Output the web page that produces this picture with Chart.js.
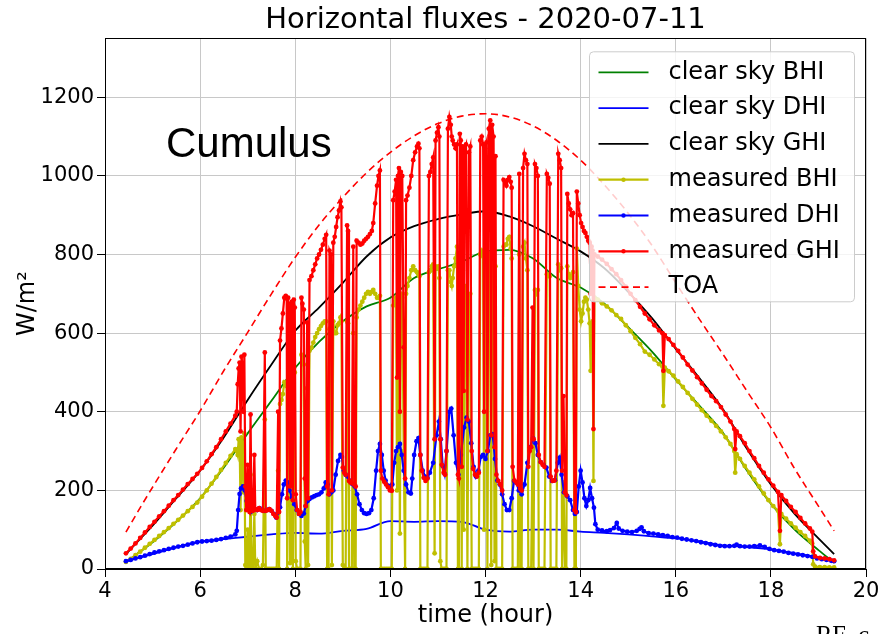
<!DOCTYPE html>
<html>
<head>
<meta charset="utf-8">
<title>Horizontal fluxes - 2020-07-11</title>
<script src="https://cdn.jsdelivr.net/npm/chart.js@4.4.1/dist/chart.umd.min.js"></script>
<style>
  html, body { margin: 0; padding: 0; background: #fff; }
  #wrap { position: relative; width: 882px; height: 634px; overflow: hidden; }
</style>
</head>
<body>
<div id="wrap"><canvas id="fluxChart" width="882" height="634"></canvas></div>
<script>
// clear sky model + top of atmosphere, W/m2 against hour of day
const clearHours = [4.44, 4.75, 5, 5.5, 6, 6.5, 7, 7.5, 8, 8.5, 9, 9.5, 10, 10.5, 11, 11.5, 12, 12.5, 13, 13.5, 14, 14.5, 15, 15.5, 16, 16.5, 17, 17.5, 18, 18.5, 19, 19.33];
const toaFlux = [94, 158, 208, 306, 402, 505, 602, 700, 793, 875, 945, 1008, 1060, 1102, 1133, 1152, 1158, 1150, 1127, 1090, 1040, 977, 905, 823, 728, 635, 545, 452, 360, 255, 160, 97];
const clearGHI = [38, 78, 110, 180, 250, 335, 430, 520, 606, 665, 728, 795, 843, 872, 890, 902, 910, 897, 872, 840, 808, 765, 705, 638, 560, 485, 405, 305, 215, 140, 78, 38];
const clearBHI = [18, 45, 68, 120, 180, 258, 345, 428, 512, 578, 630, 668, 690, 740, 762, 782, 808, 812, 790, 740, 716, 675, 615, 553, 482, 415, 345, 250, 166, 100, 48, 16];
const clearDHI = [20, 30, 38, 55, 70, 76, 82, 88, 92, 90, 97, 102, 122, 120, 122, 120, 100, 95, 100, 100, 95, 92, 88, 83, 78, 70, 60, 56, 50, 40, 30, 22];

// measured, morning (clear)
const morningHours = [4.44, 4.54, 4.64, 4.74, 4.84, 4.94, 5.04, 5.14, 5.24, 5.34, 5.44, 5.54, 5.64, 5.74, 5.84, 5.94, 6.04, 6.14, 6.24, 6.34, 6.44, 6.54, 6.64, 6.74];
const morningGHI = [40, 52, 65, 79, 93, 107, 120, 134, 147, 161, 175, 188, 202, 216, 229, 242, 257, 274, 292, 310, 330, 350, 370, 390];
const morningBHI = [18, 26, 35, 44, 54, 64, 74, 84, 94, 104, 115, 125, 136, 147, 158, 169, 184, 200, 217, 234, 252, 270, 288, 305];
const morningDHI = [20, 23, 27, 30, 34, 38, 42, 45, 48, 51, 54, 57, 59, 62, 65, 68, 70, 71, 72, 74, 76, 79, 82, 88];

// measured, cumulus period
const cloudHours = [
  6.77, 6.79, 6.81, 6.83, 6.85, 6.87, 6.89, 6.91, 6.93, 6.95,
  6.97, 7.00, 7.02, 7.04, 7.06, 7.08, 7.11, 7.14, 7.16, 7.20,
  7.24, 7.28, 7.32, 7.36, 7.38, 7.42, 7.46, 7.50, 7.54, 7.58,
  7.61, 7.64, 7.66, 7.68, 7.71, 7.74, 7.77, 7.80, 7.82, 7.83,
  7.85, 7.87, 7.89, 7.91, 7.93, 7.95, 7.97, 7.99, 8.01, 8.04,
  8.08, 8.11, 8.13, 8.15, 8.18, 8.20, 8.22, 8.25, 8.27, 8.30,
  8.34, 8.38, 8.42, 8.46, 8.50, 8.54, 8.58, 8.62, 8.65, 8.67,
  8.70, 8.72, 8.75, 8.77, 8.80, 8.83, 8.86, 8.89, 8.92, 8.95,
  8.97, 9.00, 9.03, 9.06, 9.09, 9.11, 9.13, 9.16, 9.19, 9.22,
  9.24, 9.27, 9.29, 9.33, 9.37, 9.41, 9.45, 9.49, 9.53, 9.57,
  9.61, 9.64, 9.68, 9.72, 9.75, 9.78, 9.80, 9.83, 9.87, 9.91,
  9.95, 9.99, 10.03, 10.06, 10.09, 10.12, 10.14, 10.16, 10.18, 10.20,
  10.22, 10.25, 10.28, 10.31, 10.33, 10.36, 10.40, 10.44, 10.48, 10.52,
  10.56, 10.59, 10.61, 10.63, 10.66, 10.70, 10.74, 10.78, 10.81, 10.84,
  10.87, 10.90, 10.93, 10.95, 10.98, 11.01, 11.03, 11.05, 11.08, 11.12,
  11.15, 11.18, 11.21, 11.24, 11.27, 11.29, 11.31, 11.34, 11.37, 11.40,
  11.42, 11.44, 11.46, 11.48, 11.50, 11.52, 11.54, 11.56, 11.59, 11.62,
  11.65, 11.68, 11.71, 11.74, 11.78, 11.82, 11.86, 11.89, 11.92, 11.95,
  11.97, 11.99, 12.02, 12.04, 12.07, 12.10, 12.12, 12.14, 12.17, 12.19,
  12.21, 12.23, 12.27, 12.31, 12.35, 12.38, 12.41, 12.44, 12.47, 12.50,
  12.53, 12.55, 12.57, 12.61, 12.65, 12.68, 12.71, 12.73, 12.76, 12.79,
  12.82, 12.85, 12.88, 12.90, 12.93, 12.96, 12.99, 13.01, 13.04, 13.07,
  13.10, 13.12, 13.16, 13.20, 13.24, 13.29, 13.32, 13.35, 13.37, 13.41,
  13.45, 13.49, 13.53, 13.56, 13.59, 13.61, 13.64, 13.67, 13.70, 13.72,
  13.75, 13.78, 13.81, 13.84, 13.87, 13.90, 13.92, 13.95, 13.98, 14.01,
  14.04, 14.07, 14.10, 14.13, 14.16, 14.19, 14.21, 14.23, 14.25, 14.27
];
const cloudGHI = [
  400, 470, 510, 525, 350, 540, 520, 400, 545, 210,
  150, 265, 150, 145, 393, 150, 148, 290, 152, 150,
  155, 150, 148, 551, 148, 150, 152, 148, 140, 135,
  131, 400, 145, 581, 612, 650, 690, 695, 688, 180,
  690, 660, 210, 675, 680, 175, 685, 665, 190, 150,
  140, 145, 690, 675, 660, 230, 160, 627, 180, 735,
  745, 760, 775, 790, 800, 812, 825, 840, 850, 210,
  190, 810, 800, 200, 830, 845, 870, 895, 912, 935,
  920, 258, 245, 240, 874, 860, 224, 220, 218, 820,
  215, 210, 835, 830, 825, 828, 835, 840, 845, 852,
  860, 880, 930, 975, 1000, 1014, 250, 230, 222, 215,
  208, 200, 199, 938, 960, 990, 487, 1000, 1020, 400,
  1010, 1000, 564, 230, 938, 950, 970, 1000, 1040, 1060,
  1075, 1082, 1070, 290, 250, 232, 224, 230, 1000, 1010,
  1030, 1047, 330, 1090, 1110, 1124, 1100, 330, 265, 245,
  240, 300, 1120, 1150, 1130, 1100, 1090, 1080, 1070, 1080,
  240, 230, 1107, 1090, 260, 1075, 453, 1070, 1080, 380,
  1060, 1075, 300, 255, 240, 235, 245, 1090, 1100, 1080,
  400, 1070, 1085, 300, 1120, 1141, 340, 1130, 1100, 310,
  1050, 240, 224, 215, 200, 990, 985, 975, 990, 997,
  985, 970, 260, 225, 220, 215, 1005, 205, 200, 1020,
  1056, 1040, 1030, 260, 300, 310, 665, 330, 1030, 1020,
  1000, 290, 272, 265, 260, 1005, 995, 980, 235, 224,
  225, 250, 1056, 1040, 1020, 250, 440, 195, 188, 954,
  930, 915, 900, 905, 150, 145, 960, 930, 900, 880,
  870, 860, 855, 845, 835, 830, 700, 820, 810, 356
];
const cloudBHI = [
  300, 290, 330, 330, 150, 335, 315, 195, 345, 10,
  0, 100, 0, 5, 240, 0, 0, 140, 0, 20,
  0, 0, 10, 380, 0, 0, 0, 0, 0, 0,
  0, 250, 0, 420, 430, 445, 475, 470, 465, 0,
  470, 455, 15, 480, 495, 0, 510, 500, 20, 0,
  0, 0, 545, 535, 520, 70, 0, 460, 10, 555,
  563, 576, 590, 600, 610, 618, 625, 630, 630, 0,
  0, 610, 605, 10, 630, 600, 600, 620, 625, 640,
  630, 10, 0, 0, 630, 625, 0, 0, 0, 600,
  0, 0, 640, 660, 670, 680, 690, 700, 705, 700,
  705, 710, 700, 690, 690, 695, 0, 0, 0, 0,
  0, 0, 0, 670, 680, 690, 200, 690, 705, 90,
  700, 690, 300, 0, 700, 720, 740, 760, 770, 760,
  755, 750, 745, 0, 0, 0, 0, 0, 755, 760,
  770, 775, 40, 770, 765, 770, 740, 20, 0, 0,
  0, 0, 760, 760, 730, 720, 740, 770, 790, 820,
  0, 0, 800, 790, 0, 760, 100, 720, 710, 0,
  690, 700, 0, 0, 0, 0, 0, 800, 810, 795,
  100, 780, 800, 0, 800, 800, 10, 790, 770, 20,
  770, 0, 0, 0, 0, 820, 825, 825, 840, 845,
  815, 790, 0, 0, 0, 0, 800, 0, 0, 820,
  830, 790, 760, 0, 0, 0, 330, 0, 710, 700,
  710, 0, 0, 0, 0, 750, 745, 745, 0, 0,
  0, 0, 775, 760, 765, 0, 220, 0, 0, 770,
  750, 740, 745, 755, 0, 0, 815, 720, 660, 630,
  650, 680, 690, 685, 660, 625, 504, 620, 630, 224
];
const cloudDhiHours = [
  6.77, 6.80, 6.83, 6.86, 6.90, 6.94, 6.98, 7.02, 7.06, 7.10,
  7.15, 7.20, 7.25, 7.30, 7.35, 7.40, 7.45, 7.50, 7.55, 7.60,
  7.65, 7.68, 7.72, 7.76, 7.80, 7.84, 7.88, 7.93, 7.98, 8.03,
  8.08, 8.13, 8.18, 8.22, 8.26, 8.30, 8.35, 8.40, 8.45, 8.50,
  8.55, 8.60, 8.64, 8.68, 8.72, 8.76, 8.80, 8.85, 8.90, 8.95,
  8.98, 9.02, 9.06, 9.10, 9.15, 9.20, 9.25, 9.30, 9.35, 9.40,
  9.45, 9.50, 9.55, 9.60, 9.65, 9.70, 9.74, 9.78, 9.82, 9.86,
  9.90, 9.95, 10.00, 10.04, 10.08, 10.12, 10.16, 10.20, 10.24, 10.28,
  10.33, 10.38, 10.43, 10.46, 10.50, 10.55, 10.59, 10.63, 10.68, 10.73,
  10.78, 10.83, 10.90, 10.97, 11.02, 11.06, 11.10, 11.14, 11.18, 11.24,
  11.28, 11.33, 11.38, 11.43, 11.48, 11.55, 11.60, 11.65, 11.70, 11.75,
  11.80, 11.85, 11.90, 11.95, 12.00, 12.05, 12.10, 12.15, 12.20, 12.25,
  12.30, 12.35, 12.40, 12.45, 12.50, 12.55, 12.60, 12.65, 12.70, 12.76,
  12.82, 12.88, 12.94, 13.00, 13.05, 13.10, 13.16, 13.22, 13.28, 13.34,
  13.40, 13.46, 13.52, 13.56, 13.60, 13.65, 13.72, 13.78, 13.84, 13.88,
  13.92, 13.96, 14.00, 14.04, 14.08, 14.12, 14.16, 14.20, 14.24, 14.28
];
const cloudDHI = [
  97, 150, 191, 205, 210, 200, 173, 150, 145, 150,
  152, 150, 155, 150, 148, 150, 152, 148, 140, 131,
  145, 157, 190, 215, 225, 220, 200, 182, 165, 150,
  140, 135, 141, 160, 173, 178, 182, 185, 188, 190,
  195, 205, 220, 215, 190, 195, 200, 240, 275, 290,
  285, 250, 240, 235, 225, 216, 210, 190, 165, 150,
  142, 140, 142, 150, 180, 250, 300, 318, 290, 250,
  225, 212, 205, 215, 270, 300, 310, 318, 290, 250,
  215, 195, 192, 230, 290, 325, 333, 290, 250, 235,
  232, 245, 270, 340, 375, 330, 262, 242, 300, 400,
  408, 340, 270, 240, 290, 360, 385, 375, 320, 260,
  235, 250, 285, 290, 280, 300, 340, 343, 280, 225,
  215, 190, 165, 150, 150, 180, 224, 220, 200, 190,
  215, 270, 310, 333, 320, 290, 272, 265, 258, 235,
  224, 226, 270, 283, 240, 195, 185, 175, 150, 140,
  145, 210, 250, 220, 180, 160, 175, 206, 180, 156
];

// measured, afternoon (mostly clear)
const eveningHours = [14.29, 14.36, 14.45, 14.55, 14.65, 14.75, 14.85, 14.95, 15.05, 15.15, 15.25, 15.35, 15.45, 15.55, 15.65, 15.72, 15.74, 15.77, 15.85, 15.95, 16.05, 16.15, 16.25, 16.35, 16.45, 16.55, 16.65, 16.75, 16.85, 16.95, 17.05, 17.15, 17.23, 17.25, 17.28, 17.35, 17.45, 17.55, 17.65, 17.75, 17.85, 17.95, 18.05, 18.15, 18.19, 18.22, 18.32, 18.42, 18.52, 18.62, 18.72, 18.82, 18.87, 18.89, 18.93, 19.03, 19.13, 19.23, 19.33];
const eveningGHI = [800, 795, 787, 776, 763, 750, 735, 718, 700, 684, 667, 650, 635, 620, 607, 600, 504, 595, 585, 570, 555, 538, 520, 505, 488, 472, 456, 440, 427, 412, 393, 375, 356, 305, 350, 338, 320, 300, 282, 262, 245, 228, 212, 196, 97, 188, 173, 158, 145, 130, 116, 103, 95, 45, 32, 28, 27, 25, 22];
const eveningBHI = [690, 685, 676, 668, 658, 646, 636, 620, 605, 588, 572, 553, 545, 533, 521, 515, 415, 512, 503, 492, 477, 463, 448, 433, 418, 404, 390, 377, 364, 350, 335, 318, 300, 245, 292, 280, 262, 245, 228, 210, 192, 175, 160, 148, 63, 140, 128, 116, 105, 94, 84, 72, 65, 12, 6, 5, 5, 4, 4];
const eveningDhiHours = [14.31, 14.36, 14.45, 14.55, 14.62, 14.70, 14.76, 14.80, 14.88, 14.98, 15.08, 15.18, 15.24, 15.28, 15.33, 15.43, 15.53, 15.63, 15.73, 15.83, 15.93, 16.03, 16.13, 16.23, 16.33, 16.43, 16.53, 16.63, 16.73, 16.83, 16.93, 17.03, 17.13, 17.23, 17.28, 17.35, 17.45, 17.55, 17.65, 17.77, 17.87, 17.97, 18.07, 18.17, 18.27, 18.37, 18.47, 18.57, 18.67, 18.77, 18.87, 18.97, 19.07, 19.17, 19.27, 19.33];
const eveningDHI = [114, 100, 98, 96, 99, 104, 117, 103, 97, 95, 94, 97, 102, 106, 96, 91, 90, 88, 86, 84, 81, 80, 77, 75, 73, 71, 68, 66, 63, 61, 59, 58, 58, 59, 62, 58, 57, 57, 58, 60, 56, 51, 48, 46, 44, 41, 39, 37, 35, 33, 31, 27, 25, 23, 21, 20];

const xTicks = [4, 6, 8, 10, 12, 14, 16, 18, 20];
const yTicks = [0, 200, 400, 600, 800, 1000, 1200];

function toPoints(hours, values) {
  return hours.map((h, i) => ({ x: h, y: values[i] }));
}

const measHours = morningHours.concat(cloudHours, eveningHours);
const dhiHours = morningHours.concat(cloudDhiHours, eveningDhiHours);

function clearLine(label, values, color, order) {
  return {
    label: label, data: toPoints(clearHours, values),
    borderColor: color, backgroundColor: color, borderWidth: 1.8,
    pointRadius: 0, cubicInterpolationMode: 'monotone', order: order
  };
}
function measuredLine(label, hours, values, color, order) {
  return {
    label: label, data: toPoints(hours, values),
    borderColor: color, backgroundColor: color, borderWidth: 2.2,
    pointRadius: 2.4, pointBorderWidth: 0, pointBackgroundColor: color, order: order
  };
}

// frame, legend and text drawn over the plot
const decorations = {
  id: 'decorations',
  afterDatasetsDraw(chart) {
    const { ctx, chartArea: a } = chart;
    ctx.save();
    ctx.strokeStyle = '#000';
    ctx.lineWidth = 1;
    ctx.strokeRect(Math.round(a.left) + 0.5, Math.round(a.top) + 0.5,
      Math.round(a.right - a.left) - 1, Math.round(a.bottom - a.top) - 1);

    ctx.fillStyle = '#000';
    ctx.font = '42px "Liberation Sans", Arial, sans-serif';
    ctx.textBaseline = 'alphabetic';
    ctx.fillText('Cumulus', a.left + 61, a.top + 119);

    // legend
    const bx = a.right - 276.5, by = a.top + 13.5, bw = 265, bh = 250;
    ctx.beginPath();
    ctx.roundRect(bx, by, bw, bh, 4);
    ctx.fillStyle = 'rgba(255,255,255,0.8)';
    ctx.fill();
    ctx.strokeStyle = '#cccccc';
    ctx.stroke();
    ctx.font = '24px "DejaVu Sans", sans-serif';
    ctx.textBaseline = 'middle';
    chart.data.datasets.forEach((ds, i) => {
      const y = by + 20.5 + i * 35.8;
      ctx.beginPath();
      ctx.setLineDash(ds.borderDash || []);
      ctx.strokeStyle = ds.borderColor;
      ctx.lineWidth = ds.borderWidth;
      ctx.moveTo(bx + 9, y);
      ctx.lineTo(bx + 59, y);
      ctx.stroke();
      ctx.setLineDash([]);
      if (ds.pointRadius > 0) {
        ctx.beginPath();
        ctx.arc(bx + 34, y, 2.2, 0, Math.PI * 2);
        ctx.fillStyle = ds.borderColor;
        ctx.fill();
      }
      ctx.fillStyle = '#000';
      ctx.fillText(ds.label, bx + 79, y);
    });

    ctx.font = '24.5px "Liberation Serif", serif';
    ctx.textBaseline = 'alphabetic';
    ctx.fillText('RF_c', 816, 643);
    ctx.restore();
  }
};

Chart.defaults.font.family = '"DejaVu Sans", sans-serif';
Chart.defaults.color = '#000';

new Chart(document.getElementById('fluxChart'), {
  type: 'line',
  data: {
    datasets: [
      clearLine('clear sky BHI', clearBHI, '#008000', 6),
      clearLine('clear sky DHI', clearDHI, '#0000ff', 5),
      clearLine('clear sky GHI', clearGHI, '#000000', 4),
      measuredLine('measured BHI', measHours, morningBHI.concat(cloudBHI, eveningBHI), '#bfbf00', 3),
      measuredLine('measured DHI', dhiHours, morningDHI.concat(cloudDHI, eveningDHI), '#0000ff', 2),
      measuredLine('measured GHI', measHours, morningGHI.concat(cloudGHI, eveningGHI), '#ff0000', 1),
      {
        label: 'TOA', data: toPoints(clearHours, toaFlux),
        borderColor: '#ff0000', backgroundColor: '#ff0000', borderWidth: 1.6,
        borderDash: [7, 4.5], pointRadius: 0, cubicInterpolationMode: 'monotone', order: 0
      }
    ]
  },
  options: {
    responsive: false,
    animation: false,
    devicePixelRatio: 1,
    events: [],
    layout: { padding: { top: 0, right: 16, bottom: 0, left: 0 } },
    plugins: {
      legend: { display: false },
      tooltip: { enabled: false },
      title: {
        display: true, fullSize: false,
        text: 'Horizontal fluxes - 2020-07-11',
        color: '#000',
        font: { size: 29, weight: 'normal' },
        padding: { top: 3.5, bottom: 0 }
      }
    },
    scales: {
      x: {
        type: 'linear', min: 4, max: 20,
        afterBuildTicks: s => { s.ticks = xTicks.map(v => ({ value: v })); },
        afterFit: s => { s.height = 65; },
        ticks: { color: '#000', font: { size: 21 }, padding: 2, maxRotation: 0, autoSkip: false, callback: v => String(v) },
        grid: { color: '#c8c8c8', lineWidth: 1, tickLength: 8, tickColor: '#000' },
        border: { color: '#000' },
        title: { display: true, text: 'time (hour)', color: '#000', font: { size: 24 }, padding: { top: 0, bottom: 4 } }
      },
      y: {
        type: 'linear', min: 0, max: 1350,
        afterBuildTicks: s => { s.ticks = yTicks.map(v => ({ value: v })); },
        afterFit: s => { s.width = 105; },
        ticks: { color: '#000', font: { size: 21 }, padding: 3, callback: v => String(v) },
        grid: { color: '#c8c8c8', lineWidth: 1, tickLength: 8, tickColor: '#000' },
        border: { color: '#000' },
        title: { display: true, text: 'W/m²', color: '#000', font: { size: 24 }, padding: { top: 13, bottom: 0 } }
      }
    }
  },
  plugins: [decorations]
});
</script>
</body>
</html>
